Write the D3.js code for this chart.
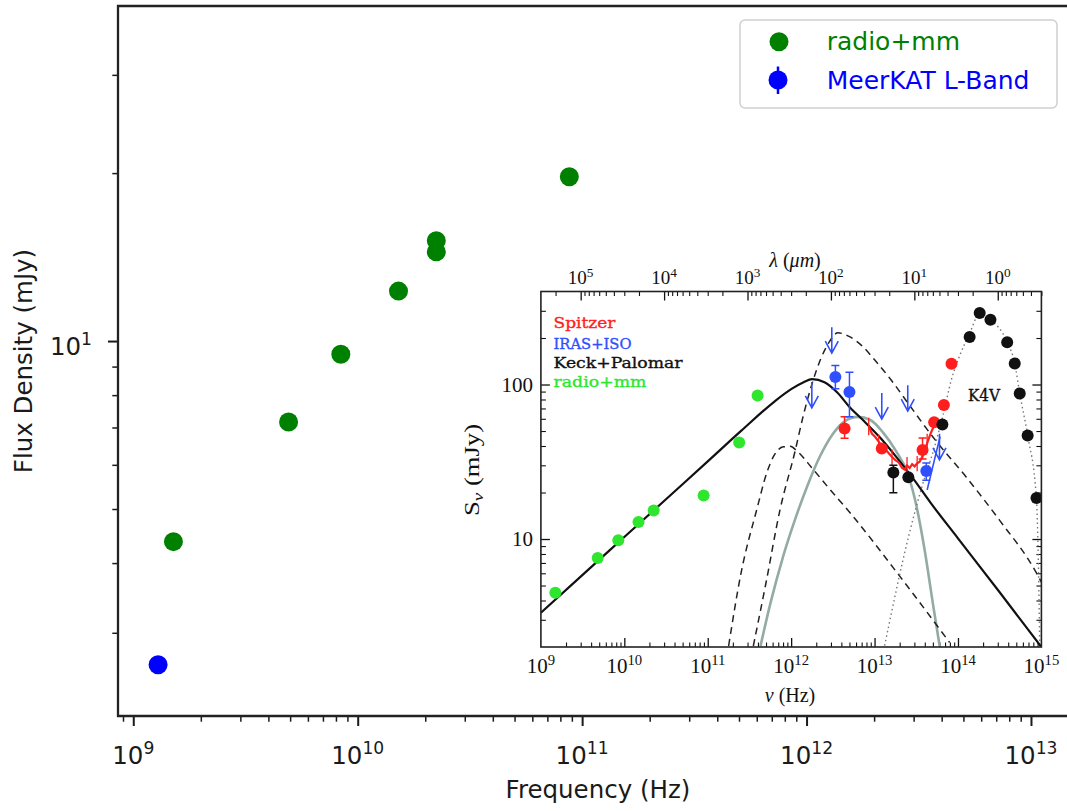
<!DOCTYPE html>
<html>
<head>
<meta charset="utf-8">
<script src="https://cdn.jsdelivr.net/npm/d3@7"></script>
<style>
  html, body { margin: 0; padding: 0; background: #fff; }
  svg { display: block; }
</style>
</head>
<body>
<svg id="chart" width="1067" height="811"></svg>
<script>
// ---------------- Main panel data ----------------
const radioFreq = [1.51e9, 4.92e9, 8.41e9, 1.52e10, 2.24e10, 2.24e10, 8.77e10];
const radioFlux = [4.37, 7.16, 9.47, 12.29, 15.13, 14.45, 19.7];
const meerkatFreq = [1.29e9];
const meerkatFlux = [2.63];
const mainXTickValues = [1e9, 1e10, 1e11, 1e12, 1e13];
const mainXTickExponents = ["9", "10", "11", "12", "13"];
const mainYTickValues = [10];
const mainYTickExponents = ["1"];
const legendNames = ["radio+mm", "MeerKAT L-Band"];
const mainXLabel = "Frequency (Hz)";
const mainYLabel = "Flux Density (mJy)";

// ---------------- Inset (SED) data ----------------
const sedRadioFreq = [1.49e9, 4.8e9, 8.47e9, 1.48e10, 2.25e10, 8.93e10, 2.38e11, 3.96e11];
const sedRadioFlux = [4.49, 7.53, 9.8, 12.9, 15.3, 19.1, 42.1, 84.9];

const spitzerFreq = [4.37e12, 1.22e13, 3.76e13, 5.18e13, 6.78e13, 8.36e13];
const spitzerFlux = [52.0, 38.6, 37.7, 56.9, 73.6, 136.5];
const spitzerLo   = [44.9, null, 33.0, null, null, null];
const spitzerHi   = [61.8, null, 45.0, null, null, null];

const irsFreq = [8.51e12, 9.33e12, 1.02e13, 1.12e13, 1.23e13, 1.35e13, 1.48e13, 1.62e13, 1.78e13, 1.95e13, 2.14e13, 2.29e13,
                 2.45e13, 2.63e13, 2.82e13, 3.02e13, 3.24e13, 3.47e13, 3.72e13, 3.98e13, 4.27e13, 4.68e13, 5.13e13, 5.62e13];
const irsFlux = [53.7, 47.9, 45.7, 42.7, 39.8, 38.0, 35.9, 33.9, 32.4, 31.3, 28.8, 28.2,
                 29.9, 28.8, 30.5, 29.5, 30.9, 31.6, 33.9, 37.2, 41.7, 47.9, 53.7, 56.2];
const irsErrFreq = [8.51e12, 1.12e13, 1.62e13, 2.45e13, 3.24e13, 4.27e13];
const irsErrLo   = [47, 38, 30, 26, 27.5, 36];
const irsErrHi   = [61, 47.5, 38, 34, 34.5, 48];

const irasFreq = [3.39e12, 5.0e12, 4.17e13];
const irasFlux = [112, 89.5, 27.6];
const irasLo   = [94, 61.8, 24];
const irasHi   = [133, 120, 31];
const irasLimFreq = [1.77e12, 3.07e12, 1.22e13, 2.5e13, 6.0e13];
const irasLimFlux = [104, 235, 88, 99, 48];
const isoSpecFreq = [4.27e13, 6.1e13];
const isoSpecFlux = [20.8, 46];

const keckFreq = [1.68e13, 2.54e13, 6.5e13, 1.38e14, 1.82e14, 2.45e14, 3.89e14, 4.79e14, 5.5e14, 6.84e14, 8.73e14];
const keckFlux = [26.9, 25.1, 55.2, 203, 290, 263, 188, 137, 87.5, 46.8, 18.4];
const keckLo   = [19.9, null, null, null, null, null, null, null, null, null, null];
const keckHi   = [30.0, null, null, null, null, null, null, null, null, null, null];

// model curves
const synchFreq = [1e9, 3.16e9, 1e10, 3.16e10, 1e11, 2.51e11, 6.31e11, 1e12, 1.41e12, 1.78e12, 2.51e12, 3.55e12,
                   5.01e12, 7.41e12, 1.17e13, 1.86e13, 2.95e13, 4.68e13, 1e14, 3.16e14, 1e15];
const synchFlux = [3.33, 5.86, 10.3, 18.1, 31.8, 50.1, 77.6, 93.3, 103.5, 108.4, 103.5, 89.1,
                   71.6, 58.2, 45.2, 33.5, 24.3, 17.2, 10.1, 4.52, 2.0];

const warmDustFreq = [3.52e11, 5.01e11, 7.36e11, 1.11e12, 1.40e12, 1.77e12, 2.24e12, 2.82e12, 3.63e12, 5.01e12,
                      7.08e12, 1e13, 1.58e13, 2.51e13, 5.01e13, 1.26e14, 3.16e14, 8.51e14, 1e15];
const warmDustFlux = [2.03, 5.25, 15.5, 36.7, 63.1, 100, 144.5, 186, 216, 204,
                      178, 144.5, 107, 75.9, 45.7, 25.1, 13.2, 6.17, 5.25];

const coldDustFreq = [1.78e11, 2.51e11, 3.87e11, 5.09e11, 6.12e11, 8.07e11, 9.77e11, 1.17e12, 1.78e12, 2.82e12, 5.08e12, 2e13, 7.94e13];
const coldDustFlux = [2.03, 6.03, 15.5, 26.7, 34.1, 39.5, 39.8, 37.2, 28.8, 21.4, 14.8, 5.75, 2.14];

const diskFreq = [4.29e11, 5.62e11, 7.94e11, 1.12e12, 1.58e12, 2.24e12, 3.16e12, 4.47e12, 6.31e12, 8.91e12,
                  1.26e13, 1.78e13, 2.51e13, 3.16e13, 3.98e13, 5.01e13, 6.03e13];
const diskFlux = [2.03, 3.80, 7.59, 13.5, 22.4, 34.7, 47.9, 58.2, 61.7, 58.9,
                  49.0, 37.6, 26.3, 16.6, 8.51, 3.80, 2.03];

const starFreq = [1.32e13, 2.57e13, 3.8e13, 5.13e13, 6.61e13, 8.32e13, 1.07e14, 1.38e14, 1.82e14, 2.45e14,
                  3.89e14, 4.79e14, 5.5e14, 6.84e14, 8.71e14, 9.23e14, 9.55e14];
const starFlux = [2.04, 10.5, 22.9, 38.0, 63.1, 107, 158, 214, 288, 263,
                  188, 137, 87.5, 46.8, 18.4, 6.31, 2.04];

const insetXTickValues = [1e9, 1e10, 1e11, 1e12, 1e13, 1e14, 1e15];
const insetXTickExponents = ["9", "10", "11", "12", "13", "14", "15"];
const insetYTickValues = [10, 100];
const insetYTickLabels = ["10", "100"];
const insetLamTickValues = [1e5, 1e4, 1e3, 1e2, 1e1, 1e0];
const insetLamTickExponents = ["5", "4", "3", "2", "1", "0"];
const insetLegendNames = ["Spitzer", "IRAS+ISO", "Keck+Palomar", "radio+mm"];
const starLabel = "K4V";
const C_UM_HZ = 2.998e14;

// ---------------- Setup ----------------
const svg = d3.select("#chart");
svg.append("rect").attr("width", 1067).attr("height", 811).attr("fill", "#fff");

const SANS = "DejaVu Sans, sans-serif";
const SERIF = "Liberation Serif, DejaVu Serif, serif";
const INK = "#1a1a1a";

function supText(g, x, y, base, exp, size, anchor, family, fill, rise) {
  const t = g.append("text").attr("x", x).attr("y", y).attr("text-anchor", anchor)
    .attr("font-family", family).attr("font-size", size).attr("fill", fill);
  t.append("tspan").text(base);
  t.append("tspan").attr("font-size", size * 0.7).attr("dy", -rise).text(exp);
  return t;
}
function minorTicks(lo, hi) {
  const out = [];
  for (let d = Math.floor(Math.log10(lo)) - 1; d <= Math.ceil(Math.log10(hi)); d++) {
    for (let k = 2; k <= 9; k++) {
      const v = k * Math.pow(10, d);
      if (v > lo * 1.0001 && v < hi * 0.9999) out.push(v);
    }
  }
  return out;
}
function styleAxis(g, color, width) {
  g.select(".domain").remove();
  g.selectAll(".tick line").attr("stroke", color).attr("stroke-width", width);
  g.selectAll(".tick text").remove();
}

// ---------------- Main panel ----------------
const mainL = 118, mainR = 1078, mainT = 6, mainB = 716;
const x = d3.scaleLog().domain([8.55e8, 1.62e13]).range([mainL, mainR]);
const y = d3.scaleLog().domain([2.128, 39.86]).range([mainB, mainT]);

const main = svg.append("g");

const gxMaj = main.append("g").attr("transform", `translate(0,${mainB})`)
  .call(d3.axisBottom(x).tickValues(mainXTickValues).tickSize(10).tickFormat(""));
styleAxis(gxMaj, INK, 2);
const gxMin = main.append("g").attr("transform", `translate(0,${mainB})`)
  .call(d3.axisBottom(x).tickValues(minorTicks(8.55e8, 1.62e13)).tickSize(5.7).tickFormat(""));
styleAxis(gxMin, INK, 1.5);
const gyMaj = main.append("g").attr("transform", `translate(${mainL},0)`)
  .call(d3.axisLeft(y).tickValues(mainYTickValues).tickSize(10).tickFormat(""));
styleAxis(gyMaj, INK, 2);
const gyMin = main.append("g").attr("transform", `translate(${mainL},0)`)
  .call(d3.axisLeft(y).tickValues(minorTicks(2.128, 39.86)).tickSize(5.7).tickFormat(""));
styleAxis(gyMin, INK, 1.5);

main.append("path")
  .attr("d", `M${mainR},${mainT}H${mainL}V${mainB}H${mainR}`)
  .attr("fill", "none").attr("stroke", "#222").attr("stroke-width", 2.3);

mainXTickValues.forEach((v, i) => {
  supText(main, x(v), 763.5, "10", mainXTickExponents[i], 24.5, "middle", SANS, INK, 10);
});
mainYTickValues.forEach((v, i) => {
  supText(main, 92, y(v) + 14, "10", mainYTickExponents[i], 24.5, "end", SANS, INK, 10);
});

main.append("text").attr("x", 598).attr("y", 798).attr("text-anchor", "middle")
  .attr("font-family", SANS).attr("font-size", 24.5).attr("fill", INK).text(mainXLabel);
main.append("text").attr("transform", "translate(32,361) rotate(-90)").attr("text-anchor", "middle")
  .attr("font-family", SANS).attr("font-size", 24.5).attr("fill", INK).text(mainYLabel);

// ---------------- Inset ----------------
const inL = 540.9, inR = 1041.4, inT = 291.5, inB = 647;
const ix = d3.scaleLog().domain([1e9, 1e15]).range([inL, inR]);
const iy = d3.scaleLog().domain([2, 400]).range([inB, inT]);
const ilam = d3.scaleLog().domain([C_UM_HZ / 1e9, C_UM_HZ / 1e15]).range([inL, inR]);

const inset = svg.append("g");
inset.append("rect").attr("x", 445).attr("y", 248).attr("width", 612).attr("height", 462).attr("fill", "#fff");

const clipId = "insetClip";
svg.append("defs").append("clipPath").attr("id", clipId)
  .append("rect").attr("x", inL).attr("y", inT).attr("width", inR - inL).attr("height", inB - inT);

const IN_INK = "#111";
function insetAxis(axisFn, scale, vals, size, width, transform) {
  const g = inset.append("g").attr("transform", transform)
    .call(axisFn(scale).tickValues(vals).tickSize(-size).tickFormat(""));
  styleAxis(g, IN_INK, width);
}
const ixMinor = minorTicks(1e9, 1e15);
const iyMinor = minorTicks(2, 400);
const ilamMinor = minorTicks(C_UM_HZ / 1e15, C_UM_HZ / 1e9);
insetAxis(d3.axisBottom, ix, insetXTickValues.slice(1, -1), 9, 1.3, `translate(0,${inB})`);
insetAxis(d3.axisBottom, ix, ixMinor, 4.5, 1.1, `translate(0,${inB})`);
insetAxis(d3.axisTop, ilam, insetLamTickValues, 9, 1.3, `translate(0,${inT})`);
insetAxis(d3.axisTop, ilam, ilamMinor, 4.5, 1.1, `translate(0,${inT})`);
insetAxis(d3.axisLeft, iy, insetYTickValues, 9, 1.3, `translate(${inL},0)`);
insetAxis(d3.axisLeft, iy, iyMinor, 5, 1.1, `translate(${inL},0)`);
insetAxis(d3.axisRight, iy, insetYTickValues, 9, 1.3, `translate(${inR},0)`);
insetAxis(d3.axisRight, iy, iyMinor, 5, 1.1, `translate(${inR},0)`);

const plot = inset.append("g").attr("clip-path", `url(#${clipId})`);
const lineGen = d3.line().x(d => ix(d[0])).y(d => iy(d[1])).curve(d3.curveMonotoneX);
function curve(fx, fy, color, width, dash) {
  plot.append("path").datum(fx.map((f, i) => [f, fy[i]]))
    .attr("d", lineGen).attr("fill", "none").attr("stroke", color)
    .attr("stroke-width", width).attr("stroke-dasharray", dash || null);
}
curve(diskFreq, diskFlux, "#93aba4", 2.6);
curve(coldDustFreq, coldDustFlux, "#222", 1.5, "7,5");
curve(warmDustFreq, warmDustFlux, "#222", 1.5, "7,5");
curve(starFreq, starFlux, "#777", 1.4, "1.5,3");
curve(synchFreq, synchFlux, "#111", 2.2);

const RED = "#ff1e1e", BLUE = "#2f4fff", GREEN = "#2ee62e";
plot.append("path").datum(irsFreq.map((f, i) => [f, irsFlux[i]]))
  .attr("d", d3.line().x(d => ix(d[0])).y(d => iy(d[1])))
  .attr("fill", "none").attr("stroke", RED).attr("stroke-width", 2.2);
irsErrFreq.forEach((f, i) => {
  plot.append("line").attr("x1", ix(f)).attr("x2", ix(f))
    .attr("y1", iy(irsErrLo[i])).attr("y2", iy(irsErrHi[i]))
    .attr("stroke", RED).attr("stroke-width", 1.3);
});
plot.append("path").datum(isoSpecFreq.map((f, i) => [f, isoSpecFlux[i]]))
  .attr("d", d3.line().x(d => ix(d[0])).y(d => iy(d[1])))
  .attr("fill", "none").attr("stroke", BLUE).attr("stroke-width", 1.6);

function errBars(fx, lo, hi, color) {
  fx.forEach((f, i) => {
    if (lo[i] == null) return;
    const cx = ix(f);
    plot.append("path")
      .attr("d", `M${cx},${iy(lo[i])}V${iy(hi[i])}M${cx - 4},${iy(lo[i])}H${cx + 4}M${cx - 4},${iy(hi[i])}H${cx + 4}`)
      .attr("stroke", color).attr("stroke-width", 1.5).attr("fill", "none");
  });
}
errBars(spitzerFreq, spitzerLo, spitzerHi, RED);
errBars(irasFreq, irasLo, irasHi, BLUE);
errBars(keckFreq, keckLo, keckHi, "#111");

irasLimFreq.forEach((f, i) => {
  const cx = ix(f), cy = iy(irasLimFlux[i]);
  plot.append("path")
    .attr("d", `M${cx},${cy}V${cy + 26}M${cx - 6.5},${cy + 14}L${cx},${cy + 26}L${cx + 6.5},${cy + 14}`)
    .attr("stroke", BLUE).attr("stroke-width", 1.6).attr("fill", "none");
});

function pts(fx, fy, color, r) {
  plot.selectAll(null).data(fx.map((f, i) => [f, fy[i]])).enter().append("circle")
    .attr("cx", d => ix(d[0])).attr("cy", d => iy(d[1])).attr("r", r).attr("fill", color);
}
pts(sedRadioFreq, sedRadioFlux, GREEN, 6);
pts(spitzerFreq, spitzerFlux, RED, 6);
pts(irasFreq, irasFlux, BLUE, 6);
pts(keckFreq, keckFlux, "#111", 6);

inset.append("rect").attr("x", inL).attr("y", inT).attr("width", inR - inL).attr("height", inB - inT)
  .attr("fill", "none").attr("stroke", "#222").attr("stroke-width", 1.6);

insetXTickValues.forEach((v, i) => {
  supText(inset, ix(v), 673, "10", insetXTickExponents[i], 21, "middle", SERIF, IN_INK, 8);
});
insetLamTickValues.forEach((v, i) => {
  supText(inset, ilam(v), 284, "10", insetLamTickExponents[i], 19, "middle", SERIF, IN_INK, 7);
});
insetYTickValues.forEach((v, i) => {
  inset.append("text").attr("x", 533).attr("y", iy(v) + 7).attr("text-anchor", "end")
    .attr("font-family", SERIF).attr("font-size", 21).attr("fill", IN_INK).text(insetYTickLabels[i]);
});
const nuLab = inset.append("text").attr("x", 790).attr("y", 702).attr("text-anchor", "middle")
  .attr("font-family", SERIF).attr("font-size", 20).attr("fill", IN_INK);
nuLab.append("tspan").attr("font-style", "italic").text("ν");
nuLab.append("tspan").text(" (Hz)");
const lamLab = inset.append("text").attr("x", 795).attr("y", 267).attr("text-anchor", "middle")
  .attr("font-family", SERIF).attr("font-size", 20).attr("fill", IN_INK);
lamLab.append("tspan").attr("font-style", "italic").text("λ");
lamLab.append("tspan").text(" (");
lamLab.append("tspan").attr("font-style", "italic").text("μm");
lamLab.append("tspan").text(")");
const sLab = inset.append("text").attr("transform", "translate(479,470) rotate(-90)").attr("text-anchor", "middle")
  .attr("font-family", SERIF).attr("font-size", 21).attr("fill", IN_INK)
  .attr("textLength", 92).attr("lengthAdjust", "spacingAndGlyphs");
sLab.append("tspan").text("S");
sLab.append("tspan").attr("font-size", 15).attr("dy", 4).attr("font-style", "italic").text("ν");
sLab.append("tspan").attr("dy", -4).text(" (mJy)");

const insetLegendColors = [RED, BLUE, "#111", GREEN];
const insetLegendY = [328.3, 349, 368.3, 386.7];
const insetLegendW = [62, 78, 129, 93];
insetLegendNames.forEach((n, i) => {
  inset.append("text").attr("x", 553.5).attr("y", insetLegendY[i])
    .attr("font-family", "DejaVu Serif, serif").attr("font-size", 15)
    .attr("textLength", insetLegendW[i]).attr("lengthAdjust", "spacingAndGlyphs")
    .attr("fill", insetLegendColors[i]).attr("stroke", insetLegendColors[i]).attr("stroke-width", 0.35)
    .text(n);
});
inset.append("text").attr("x", 968).attr("y", 401)
  .attr("font-family", "DejaVu Serif, serif").attr("font-size", 16)
  .attr("textLength", 32).attr("lengthAdjust", "spacingAndGlyphs")
  .attr("fill", "#111").attr("stroke", "#111").attr("stroke-width", 0.35).text(starLabel);

// ---------------- Main data points ----------------
main.raise();
main.selectAll(null).data(radioFreq.map((f, i) => [f, radioFlux[i]])).enter().append("circle")
  .attr("cx", d => x(d[0])).attr("cy", d => y(d[1])).attr("r", 9.5).attr("fill", "#008000");
main.selectAll(null).data(meerkatFreq.map((f, i) => [f, meerkatFlux[i]])).enter().append("circle")
  .attr("cx", d => x(d[0])).attr("cy", d => y(d[1])).attr("r", 9.5).attr("fill", "#0000ff");

// ---------------- Legend ----------------
const leg = svg.append("g");
leg.append("rect").attr("x", 740).attr("y", 20).attr("width", 317).attr("height", 88).attr("rx", 5)
  .attr("fill", "#fff").attr("fill-opacity", 0.85).attr("stroke", "#cfcfcf").attr("stroke-width", 1.5);
leg.append("circle").attr("cx", 779).attr("cy", 41.7).attr("r", 9.5).attr("fill", "#008000");
leg.append("line").attr("x1", 778).attr("x2", 778).attr("y1", 66.5).attr("y2", 94)
  .attr("stroke", "#0000ff").attr("stroke-width", 2.5);
leg.append("circle").attr("cx", 778).attr("cy", 80).attr("r", 9.5).attr("fill", "#0000ff");
leg.append("text").attr("x", 826.7).attr("y", 50).attr("font-family", SANS).attr("font-size", 25)
  .attr("fill", "#008000").text(legendNames[0]);
leg.append("text").attr("x", 826.7).attr("y", 88.5).attr("font-family", SANS).attr("font-size", 25)
  .attr("fill", "#0000ff").text(legendNames[1]);
</script>
</body>
</html>
